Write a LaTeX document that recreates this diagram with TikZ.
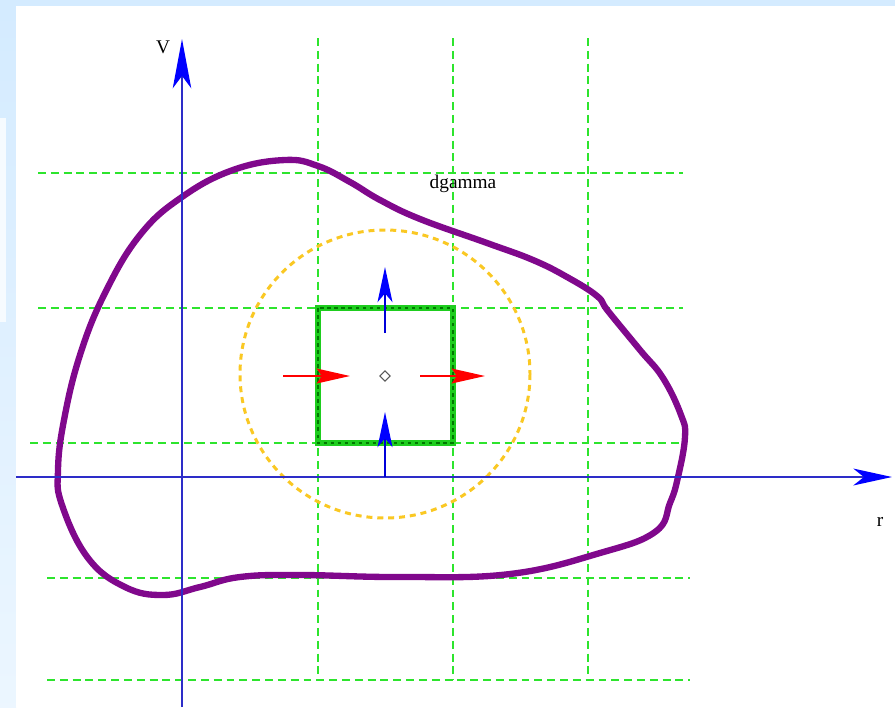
\documentclass[tikz,border=0pt]{standalone}
\usepackage{fontspec}
\setmainfont{Liberation Serif}
\usepackage{tikz}
\usetikzlibrary{arrows.meta,shapes.geometric}
\definecolor{slideblue}{RGB}{212,235,255}
\definecolor{gridgreen}{RGB}{45,228,45}
\definecolor{boxgreen}{RGB}{30,205,30}
\definecolor{boxdark}{RGB}{0,120,0}
\definecolor{curvepurple}{RGB}{128,8,140}
\definecolor{axisblue}{RGB}{45,45,200}
\definecolor{circyellow}{RGB}{250,200,35}
\tikzset{
  gridline/.style={draw=gridgreen,line width=0.9pt,dash pattern=on 4.5pt off 2.8pt},
  axisline/.style={draw=axisblue,line width=1.1pt},
  vtip/.style={-{Stealth[length=28pt,width=10.5pt,inset=7pt,color=blue]}},
  rtip/.style={-{Stealth[length=22pt,width=9.6pt,inset=6pt,color=blue]}},
  bluearrow/.style={draw=blue!85!black,line width=1.1pt,
    -{Stealth[length=20pt,width=8.5pt,inset=5pt,color=blue]}},
  redarrow/.style={draw=red,line width=1.1pt,
    -{Stealth[length=19pt,width=8.5pt,inset=3pt,color=red]}},
  boxedge/.style={draw=boxgreen,line width=3.4pt},
  boxdash/.style={draw=boxdark,line width=0.8pt,dash pattern=on 2pt off 2pt},
  circdash/.style={draw=circyellow,line width=1.7pt,dash pattern=on 3.4pt off 2.8pt},
  curve/.style={draw=curvepurple,line width=3.6pt,line join=round},
  lbl/.style={font=\fontsize{11}{13}\selectfont,inner sep=0pt},
}

\begin{document}
\begin{tikzpicture}[x=0.02cm,y=-0.02cm]
  \useasboundingbox (0,0) rectangle (895,707);
  % slide background
  \fill[slideblue] (0,0) rectangle (895,707);
  \shade[top color=slideblue,bottom color=slideblue!45] (0,6) rectangle (16,707);
  \fill[white!80!slideblue] (0,118) rectangle (6,322);
  \fill[white] (16,6) rectangle (895,707);

  % grid
  \foreach \gx in {318,453,588}
    \draw[gridline] (\gx,38) -- (\gx,680);
  \foreach \gy/\xa/\xb in {173/38/683,308/38/683,443/30/683,578/47/690,680/47/690}
    \draw[gridline] (\xa,\gy) -- (\xb,\gy);

  % circle round the cell
  \draw[circdash] (385,374) circle [x radius=145,y radius=144];

  % boundary curve
  \draw[curve] plot[smooth cycle,tension=0.7] coordinates {
    (285,160) (318,166) (350,182) (380,200) (420,219) (487,243)
    (533,260) (567,277) (597,296) (608,311) (640,350) (663,378) (681,415)
    (685,437) (678,477) (670,503) (655,532) (600,553) (510,574) (400,577)
    (300,575) (240,577) (200,587) (163,595) (125,587) (88,558)
    (62,505) (58,470) (64,420) (80,355) (105,293) (140,235) (182,197) (233,170)};

  % axes
  \coordinate (vbot)   at (182,707);
  \coordinate (vtop)   at (182,39);
  \coordinate (rleft)  at (16,477);
  \coordinate (rright) at (892,477);
  \draw[axisline,vtip] (vbot) -- (vtop);
  \draw[axisline,rtip] (rleft) -- (rright);
  \node[lbl] (vlab) at (163,47) {V};
  \node[lbl] (rlab) at (880,522) {r};

  % control cell
  \draw[boxedge] (318,308) rectangle (453,443);
  \draw[boxdash] (318,308) rectangle (453,443);
  \node[diamond,draw=gray!70!black,line width=0.6pt,inner sep=0pt,
        minimum width=6pt,minimum height=6pt] (ctr) at (385,376) {};

  % fluxes through the cell
  \coordinate (upfrom) at (385,333);
  \coordinate (upto)   at (385,267);
  \coordinate (lofrom) at (385,477);
  \coordinate (loto)   at (385,412);
  \coordinate (lfrom)  at (283,376);
  \coordinate (lto)    at (350,376);
  \coordinate (rfrom)  at (420,376);
  \coordinate (rto)    at (485,376);
  \draw[bluearrow] (upfrom) -- (upto);
  \draw[bluearrow] (lofrom) -- (loto);
  \draw[redarrow]  (lfrom) -- (lto);
  \draw[redarrow]  (rfrom) -- (rto);

  \node[lbl] (dgam) at (463,184) {dgamma};
\end{tikzpicture}
\end{document}
